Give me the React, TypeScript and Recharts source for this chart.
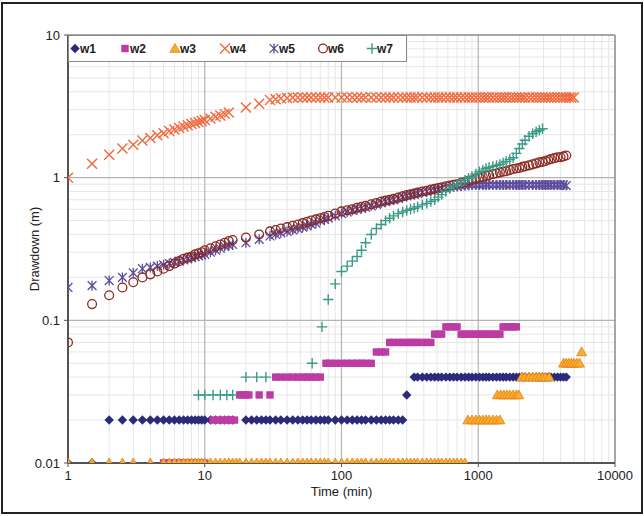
import React from 'react';
import { ScatterChart, Scatter, XAxis, YAxis, ReferenceLine } from 'recharts';

const X_TICKS = [1, 10, 100, 1000, 10000];
const Y_TICKS = [0.01, 0.1, 1, 10];
const X_MINOR = [2, 3, 4, 5, 6, 7, 8, 9, 20, 30, 40, 50, 60, 70, 80, 90, 200, 300, 400, 500, 600, 700, 800, 900, 2000, 3000, 4000, 5000, 6000, 7000, 8000, 9000];
const Y_MINOR = [0.02, 0.03, 0.04, 0.05, 0.06, 0.07, 0.08, 0.09, 0.2, 0.3, 0.4, 0.5, 0.6, 0.7, 0.8, 0.9, 2, 3, 4, 5, 6, 7, 8, 9];
const X_MAJOR = [10, 100, 1000];
const Y_MAJOR = [0.1, 1];

const SERIES_NAMES = ['w1', 'w2', 'w3', 'w4', 'w5', 'w6', 'w7'];

const W1: [number, number][] = [
  [1, 0.01], [1.5, 0.01],
  [2, 0.02], [2.5, 0.02], [3, 0.02], [3.5, 0.02], [4, 0.02], [4.5, 0.02], [5, 0.02], [5.5, 0.02], [6, 0.02], [6.5, 0.02], [7, 0.02], [7.5, 0.02], [8, 0.02], [8.5, 0.02], [9, 0.02], [9.5, 0.02], [10, 0.02], [11, 0.02], [12, 0.02], [13, 0.02], [14, 0.02], [15, 0.02], [16, 0.02],
  [20, 0.02], [22, 0.02], [24, 0.02], [26, 0.02], [28, 0.02], [30, 0.02], [33, 0.02], [36, 0.02], [40, 0.02], [44, 0.02], [48, 0.02], [52, 0.02], [56, 0.02], [60, 0.02], [65, 0.02], [70, 0.02], [75, 0.02], [80, 0.02], [90, 0.02], [100, 0.02], [110, 0.02], [120, 0.02], [130, 0.02], [140, 0.02], [150, 0.02], [165, 0.02], [180, 0.02], [195, 0.02], [210, 0.02], [225, 0.02], [240, 0.02], [260, 0.02], [280, 0.02],
  [300, 0.03],
  [340, 0.04], [360, 0.04], [390, 0.04], [420, 0.04], [450, 0.04], [480, 0.04], [510, 0.04], [540, 0.04], [580, 0.04], [620, 0.04], [660, 0.04], [700, 0.04], [750, 0.04], [800, 0.04], [850, 0.04], [900, 0.04], [960, 0.04], [1020, 0.04], [1080, 0.04], [1140, 0.04], [1200, 0.04], [1280, 0.04], [1360, 0.04], [1440, 0.04], [1520, 0.04], [1600, 0.04], [1700, 0.04], [1800, 0.04], [1900, 0.04], [2000, 0.04], [2100, 0.04], [2200, 0.04], [2350, 0.04], [2500, 0.04], [2650, 0.04], [2800, 0.04], [2950, 0.04], [3100, 0.04], [3250, 0.04], [3400, 0.04], [3600, 0.04], [3800, 0.04], [4000, 0.04], [4200, 0.04], [4400, 0.04],
];

const W2: [number, number][] = [
  [5, 0.01], [5.5, 0.01], [6, 0.01], [6.5, 0.01], [7, 0.01], [7.5, 0.01], [8, 0.01], [8.5, 0.01], [9, 0.01], [9.5, 0.01], [10, 0.01],
  [11.5, 0.02], [12.5, 0.02], [13.5, 0.02], [14.5, 0.02], [15.5, 0.02], [16.5, 0.02],
  [18, 0.03], [19, 0.03], [20, 0.03], [21, 0.03], [25, 0.03], [30, 0.03],
  [33, 0.04], [36, 0.04], [40, 0.04], [44, 0.04], [48, 0.04], [52, 0.04], [56, 0.04], [60, 0.04], [65, 0.04], [70, 0.04],
  [77, 0.05], [82, 0.05], [90, 0.05], [100, 0.05], [110, 0.05], [120, 0.05], [130, 0.05], [140, 0.05], [150, 0.05], [165, 0.05],
  [180, 0.06], [195, 0.06], [210, 0.06],
  [225, 0.07], [240, 0.07], [260, 0.07], [280, 0.07], [300, 0.07], [320, 0.07], [340, 0.07], [360, 0.07], [390, 0.07], [420, 0.07], [450, 0.07],
  [480, 0.08], [510, 0.08], [540, 0.08],
  [580, 0.09], [620, 0.09], [660, 0.09], [700, 0.09],
  [750, 0.08], [800, 0.08], [850, 0.08], [900, 0.08], [960, 0.08], [1020, 0.08], [1080, 0.08], [1140, 0.08], [1200, 0.08], [1280, 0.08], [1360, 0.08], [1440, 0.08],
  [1520, 0.09], [1600, 0.09], [1700, 0.09], [1800, 0.09], [1900, 0.09],
];

const W3: [number, number][] = [
  [1, 0.01], [1.5, 0.01], [2, 0.01], [2.5, 0.01], [3, 0.01], [4, 0.01], [5, 0.01], [5.5, 0.01], [6, 0.01], [6.5, 0.01], [7, 0.01], [7.5, 0.01], [8, 0.01], [8.5, 0.01], [9, 0.01], [9.5, 0.01], [10, 0.01], [11, 0.01], [12, 0.01], [13, 0.01], [14, 0.01], [15, 0.01], [16, 0.01], [17, 0.01], [18, 0.01], [20, 0.01], [22, 0.01], [24, 0.01], [26, 0.01], [28, 0.01], [30, 0.01], [33, 0.01], [36, 0.01], [40, 0.01], [44, 0.01], [48, 0.01], [52, 0.01], [56, 0.01], [60, 0.01], [65, 0.01], [70, 0.01], [75, 0.01], [80, 0.01], [90, 0.01], [100, 0.01], [110, 0.01], [120, 0.01], [130, 0.01], [140, 0.01], [150, 0.01], [165, 0.01], [180, 0.01], [195, 0.01], [210, 0.01], [225, 0.01], [240, 0.01], [260, 0.01], [280, 0.01], [300, 0.01], [320, 0.01], [340, 0.01], [360, 0.01], [390, 0.01], [420, 0.01], [450, 0.01], [480, 0.01], [510, 0.01], [540, 0.01], [580, 0.01], [620, 0.01], [660, 0.01], [700, 0.01], [750, 0.01], [800, 0.01],
  [840, 0.02], [900, 0.02], [960, 0.02], [1020, 0.02], [1080, 0.02], [1140, 0.02], [1200, 0.02], [1280, 0.02], [1360, 0.02], [1440, 0.02],
  [1380, 0.03], [1460, 0.03], [1540, 0.03], [1620, 0.03], [1700, 0.03], [1800, 0.03], [1900, 0.03], [1980, 0.03],
  [2080, 0.04], [2200, 0.04], [2350, 0.04], [2500, 0.04], [2650, 0.04], [2800, 0.04], [2950, 0.04], [3100, 0.04], [3300, 0.04],
  [4200, 0.05], [4400, 0.05], [4600, 0.05], [4800, 0.05], [5000, 0.05], [5250, 0.05], [5500, 0.05],
  [5700, 0.06],
];

const W4: [number, number][] = [
  [1, 1.0], [1.5, 1.25], [2, 1.45], [2.5, 1.6], [3, 1.7], [3.5, 1.82], [4, 1.9], [4.5, 1.98], [5, 2.05], [5.5, 2.12], [6, 2.18], [6.5, 2.23], [7, 2.28], [7.5, 2.33], [8, 2.38], [8.5, 2.42], [9, 2.46], [9.5, 2.5], [10, 2.54], [11, 2.6], [12, 2.67], [13, 2.73], [14, 2.8], [15, 2.86],
  [20, 3.1], [25, 3.3], [30, 3.5], [33, 3.55], [36, 3.6], [40, 3.62], [44, 3.64], [48, 3.65], [52, 3.65], [56, 3.65], [60, 3.65], [65, 3.65], [70, 3.65], [75, 3.65], [80, 3.65], [90, 3.65], [100, 3.65], [110, 3.65], [120, 3.65], [130, 3.65], [140, 3.65], [150, 3.65], [165, 3.65], [180, 3.65], [195, 3.65], [210, 3.65], [225, 3.65], [240, 3.65], [260, 3.65], [280, 3.65], [300, 3.65], [320, 3.65], [340, 3.65], [360, 3.65], [390, 3.65], [420, 3.65], [450, 3.65], [480, 3.65], [510, 3.65], [540, 3.65], [580, 3.65], [620, 3.65], [660, 3.65], [700, 3.65], [750, 3.65], [800, 3.65], [850, 3.65], [900, 3.65], [960, 3.65], [1020, 3.65], [1080, 3.65], [1140, 3.65], [1200, 3.65], [1280, 3.65], [1360, 3.65], [1440, 3.65], [1520, 3.65], [1600, 3.65], [1700, 3.65], [1800, 3.65], [1900, 3.65], [2000, 3.65], [2100, 3.65], [2200, 3.65], [2350, 3.65], [2500, 3.65], [2650, 3.65], [2800, 3.65], [2950, 3.65], [3100, 3.65], [3250, 3.65], [3400, 3.65], [3600, 3.65], [3800, 3.65], [4000, 3.65], [4200, 3.65], [4400, 3.65], [4600, 3.65], [4800, 3.65], [5000, 3.65],
];

const W5: [number, number][] = [
  [1, 0.17], [1.5, 0.175], [2, 0.19], [2.5, 0.2], [3, 0.215], [3.5, 0.23], [4, 0.235], [4.5, 0.24], [5, 0.245], [5.5, 0.25], [6, 0.255], [6.5, 0.26], [7, 0.265], [7.5, 0.27], [8, 0.275], [8.5, 0.28], [9, 0.283], [9.5, 0.287], [10, 0.29], [11, 0.3], [12, 0.31], [13, 0.32], [14, 0.33], [15, 0.335], [16, 0.34],
  [20, 0.35], [25, 0.37], [30, 0.39], [33, 0.4], [36, 0.41], [40, 0.42], [44, 0.43], [48, 0.44], [52, 0.45], [56, 0.46], [60, 0.47], [65, 0.48], [70, 0.5], [75, 0.51], [80, 0.52], [90, 0.54], [100, 0.56], [110, 0.575], [120, 0.59], [130, 0.6], [140, 0.61], [150, 0.62], [165, 0.635], [180, 0.65], [195, 0.665], [210, 0.68], [225, 0.69], [240, 0.7], [260, 0.715], [280, 0.73], [300, 0.745], [320, 0.755], [340, 0.765], [360, 0.775], [390, 0.79], [420, 0.8], [450, 0.81], [480, 0.82], [510, 0.83], [540, 0.84], [580, 0.85], [620, 0.86], [660, 0.865], [700, 0.87], [750, 0.875], [800, 0.88], [850, 0.885], [900, 0.89], [960, 0.89], [1020, 0.89], [1080, 0.89], [1140, 0.89], [1200, 0.89], [1280, 0.89], [1360, 0.89], [1440, 0.89], [1520, 0.89], [1600, 0.89], [1700, 0.89], [1800, 0.89], [1900, 0.89], [2000, 0.89], [2100, 0.89], [2200, 0.89], [2350, 0.89], [2500, 0.89], [2650, 0.89], [2800, 0.89], [2950, 0.89], [3100, 0.89], [3250, 0.89], [3400, 0.89], [3600, 0.89], [3800, 0.89], [4000, 0.89], [4200, 0.89], [4400, 0.88],
];

const W6: [number, number][] = [
  [1, 0.07], [1.5, 0.13], [2, 0.15], [2.5, 0.17], [3, 0.185], [3.5, 0.2], [4, 0.21], [4.5, 0.22], [5, 0.23], [5.5, 0.24], [6, 0.25], [6.5, 0.26], [7, 0.27], [7.5, 0.275], [8, 0.28], [8.5, 0.29], [9, 0.295], [9.5, 0.3], [10, 0.31], [11, 0.32], [12, 0.33], [13, 0.34], [14, 0.35], [15, 0.36], [16, 0.365],
  [20, 0.38], [25, 0.4], [30, 0.42], [33, 0.43], [36, 0.44], [40, 0.45], [44, 0.46], [48, 0.47], [52, 0.48], [56, 0.49], [60, 0.5], [65, 0.51], [70, 0.52], [75, 0.53], [80, 0.54], [90, 0.56], [100, 0.58], [110, 0.59], [120, 0.6], [130, 0.615], [140, 0.625], [150, 0.635], [165, 0.65], [180, 0.665], [195, 0.68], [210, 0.69], [225, 0.7], [240, 0.71], [260, 0.725], [280, 0.74], [300, 0.755], [320, 0.765], [340, 0.775], [360, 0.785], [390, 0.8], [420, 0.81], [450, 0.825], [480, 0.835], [510, 0.845], [540, 0.855], [580, 0.87], [620, 0.88], [660, 0.89], [700, 0.9], [750, 0.92], [800, 0.93], [850, 0.95], [900, 0.96], [960, 0.98], [1020, 1.0], [1080, 1.01], [1140, 1.03], [1200, 1.04], [1280, 1.06], [1360, 1.07], [1440, 1.09], [1520, 1.1], [1600, 1.11], [1700, 1.13], [1800, 1.15], [1900, 1.16], [2000, 1.17], [2100, 1.19], [2200, 1.2], [2350, 1.22], [2500, 1.24], [2650, 1.26], [2800, 1.28], [2950, 1.29], [3100, 1.31], [3250, 1.33], [3400, 1.35], [3600, 1.37], [3800, 1.39], [4000, 1.39], [4200, 1.41], [4400, 1.43],
];

const W7: [number, number][] = [
  [9, 0.03], [10, 0.03], [11.5, 0.03], [13, 0.03], [14.5, 0.03], [16, 0.03],
  [20, 0.04], [24, 0.04], [28, 0.04],
  [61, 0.05], [72, 0.09], [80, 0.14], [90, 0.18], [100, 0.22], [110, 0.24], [120, 0.26], [130, 0.28], [140, 0.31], [150, 0.35], [165, 0.4], [180, 0.44], [195, 0.47], [210, 0.5], [225, 0.52], [240, 0.54], [260, 0.56], [280, 0.575], [300, 0.59], [320, 0.6], [340, 0.61], [360, 0.625], [390, 0.645], [420, 0.66], [450, 0.68], [480, 0.7], [510, 0.73], [540, 0.76], [580, 0.8], [620, 0.84], [660, 0.87], [700, 0.9], [750, 0.93], [800, 0.96], [850, 0.99], [900, 1.02], [960, 1.06], [1020, 1.1], [1080, 1.13], [1140, 1.16], [1200, 1.18], [1280, 1.2], [1360, 1.22], [1440, 1.24], [1520, 1.27], [1600, 1.3], [1700, 1.34], [1800, 1.38], [1900, 1.48], [2000, 1.6], [2100, 1.72], [2200, 1.83], [2350, 1.95], [2500, 2.03], [2650, 2.1], [2800, 2.15], [2950, 2.2],
];

const COLORS = {
  w1: '#2c2a7a',
  w2: '#bd3ba3',
  w3: '#f8ad2c',
  w3s: '#e47f16',
  w4: '#ef6a3e',
  w5: '#5d4b9d',
  w6: '#8a2a22',
  w7: '#3a9a88',
};

const Diamond = (p: any) => {
  const { cx, cy } = p;
  const r = 4.7;
  return <path d={`M${cx},${cy - r}L${cx + r},${cy}L${cx},${cy + r}L${cx - r},${cy}Z`} fill={COLORS.w1} />;
};
const Square = (p: any) => {
  const { cx, cy } = p;
  return <rect x={cx - 3.7} y={cy - 3.7} width={7.4} height={7.4} fill={COLORS.w2} />;
};
const Triangle = (p: any) => {
  const { cx, cy } = p;
  return <path d={`M${cx},${cy - 5}L${cx + 5},${cy + 3.8}L${cx - 5},${cy + 3.8}Z`} fill={COLORS.w3} stroke={COLORS.w3s} strokeWidth={0.8} />;
};
const Cross = (p: any) => {
  const { cx, cy } = p;
  const r = 5;
  return <path d={`M${cx - r},${cy - r}L${cx + r},${cy + r}M${cx - r},${cy + r}L${cx + r},${cy - r}`} stroke={COLORS.w4} strokeWidth={1.4} fill="none" />;
};
const Star = (p: any) => {
  const { cx, cy } = p;
  const r = 4.4;
  return <path d={`M${cx - r},${cy - r}L${cx + r},${cy + r}M${cx - r},${cy + r}L${cx + r},${cy - r}M${cx},${cy - r - 0.6}L${cx},${cy + r + 0.6}`} stroke={COLORS.w5} strokeWidth={1.3} fill="none" />;
};
const Ring = (p: any) => {
  const { cx, cy } = p;
  return <circle cx={cx} cy={cy} r={4.4} stroke={COLORS.w6} strokeWidth={1.3} fill="none" />;
};
const Plus = (p: any) => {
  const { cx, cy } = p;
  const r = 5.2;
  return <path d={`M${cx - r},${cy}L${cx + r},${cy}M${cx},${cy - r}L${cx},${cy + r}`} stroke={COLORS.w7} strokeWidth={1.4} fill="none" />;
};

const SHAPES = [Diamond, Square, Triangle, Cross, Star, Ring, Plus];
const DATA = [W1, W2, W3, W4, W5, W6, W7];

const FONT = "'Liberation Sans', Arial, sans-serif";

const toPts = (arr: [number, number][]) => arr.map(([x, y]) => ({ x, y }));

export default function App() {
  const legendX = [75, 125, 175, 225, 274, 323, 372];
  return (
    <div style={{ position: 'absolute', left: 0, top: 0, width: 644, height: 516, background: '#fff' }}>
      <ScatterChart width={644} height={516} margin={{ top: 35, right: 29, bottom: 10, left: 0 }}>
        {X_MINOR.map((v) => (
          <ReferenceLine key={'xm' + v} x={v} stroke="#e6e6e6" strokeWidth={1} />
        ))}
        {Y_MINOR.map((v) => (
          <ReferenceLine key={'ym' + v} y={v} stroke="#e6e6e6" strokeWidth={1} />
        ))}
        {X_MAJOR.map((v) => (
          <ReferenceLine key={'xM' + v} x={v} stroke="#b4b4b4" strokeWidth={1.2} />
        ))}
        {Y_MAJOR.map((v) => (
          <ReferenceLine key={'yM' + v} y={v} stroke="#b4b4b4" strokeWidth={1.2} />
        ))}
        <ReferenceLine x={10000} stroke="#8a8a8a" strokeWidth={1.5} />
        <ReferenceLine y={10} stroke="#8a8a8a" strokeWidth={1.5} />
        <XAxis
          dataKey="x"
          type="number"
          scale="log"
          domain={[1, 10000]}
          ticks={X_TICKS}
          interval={0}
          allowDataOverflow
          height={43}
          tickSize={4}
          tickMargin={4}
          axisLine={{ stroke: '#555', strokeWidth: 2 }}
          tickLine={{ stroke: '#555' }}
          tick={{ fontSize: 13, fill: '#222', fontFamily: FONT }}
          label={{ value: 'Time (min)', position: 'insideBottom', offset: 10, fontSize: 13, fill: '#222', fontFamily: FONT }}
        />
        <YAxis
          dataKey="y"
          type="number"
          scale="log"
          domain={[0.01, 10]}
          ticks={Y_TICKS}
          interval={0}
          allowDataOverflow
          width={68}
          tickSize={4}
          tickMargin={4}
          axisLine={{ stroke: '#555', strokeWidth: 2 }}
          tickLine={{ stroke: '#555' }}
          tick={{ fontSize: 13, fill: '#222', fontFamily: FONT }}
          label={{ value: 'Drawdown (m)', angle: -90, position: 'center', fontSize: 13, fill: '#222', fontFamily: FONT }}
        />
        {DATA.map((d, i) => (
          <Scatter
            key={SERIES_NAMES[i]}
            name={SERIES_NAMES[i]}
            data={toPts(d)}
            shape={SHAPES[i]}
            isAnimationActive={false}
          />
        ))}
      </ScatterChart>
      <svg style={{ position: 'absolute', left: 0, top: 0 }} width={644} height={516} pointerEvents="none">
        <rect x={68.5} y={35.5} width={338} height={26} fill="#fff" stroke="#8a8a8a" strokeWidth={1} />
        {SERIES_NAMES.map((n, i) => {
          const S = SHAPES[i];
          const cx = legendX[i];
          return (
            <g key={n}>
              <S cx={cx} cy={48.5} />
              <text x={cx + 5} y={53} fontSize={12} fontWeight="bold" fontFamily={FONT} fill="#222">
                {n}
              </text>
            </g>
          );
        })}
      </svg>
      <div
        style={{
          position: 'absolute',
          left: 1,
          top: 2,
          width: 638,
          height: 508,
          border: '2px solid #222',
          pointerEvents: 'none',
        }}
      />
    </div>
  );
}
